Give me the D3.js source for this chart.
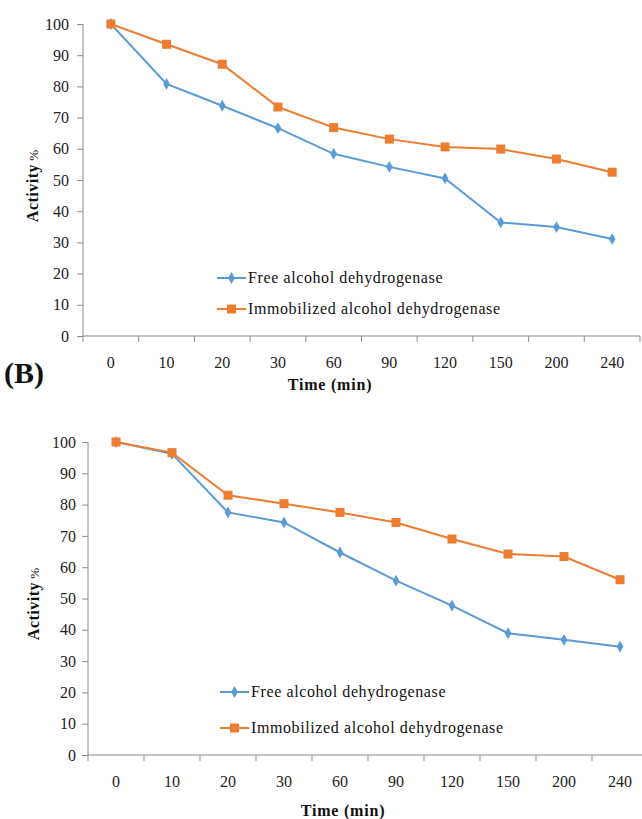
<!DOCTYPE html>
<html><head><meta charset="utf-8">
<script src="https://cdn.jsdelivr.net/npm/d3@7"></script>
<style>body{margin:0;background:#fff}svg{display:block}</style>
</head><body>
<svg id="c" width="642" height="819"></svg>
<script>
const categories = ["0","10","20","30","60","90","120","150","200","240"];
const yTicks = [0,10,20,30,40,50,60,70,80,90,100];
const seriesNames = ["Free alcohol dehydrogenase","Immobilized alcohol dehydrogenase"];
const freeA = [100,80.8,73.8,66.6,58.4,54.2,50.5,36.4,34.9,31.1];
const immobA = [100,93.5,87.1,73.4,66.8,63.1,60.6,59.9,56.7,52.5];
const freeB = [100,96.2,77.5,74.3,64.7,55.7,47.7,38.9,36.8,34.6];
const immobB = [100,96.6,83.0,80.3,77.5,74.3,69.0,64.2,63.4,56.0];
const colors = ["#5B9BD5","#ED7D31"];
const FONT = "'Liberation Serif', 'Times New Roman', serif";

const svg = d3.select("#c");

function drawChart(o){
  const g = svg.append("g");
  const x = d3.scaleBand().domain(categories).range([o.x0,o.x1]).padding(0);
  const y = d3.scaleLinear().domain([0,100]).range([o.y0,o.y1]);
  const axisCol = "#8c8c8c";
  const ya = g.append("g").attr("transform",`translate(${o.x0},0)`)
    .call(d3.axisLeft(y).tickValues(yTicks).tickSize(6).tickPadding(o.yPad).tickFormat(d3.format("d")));
  ya.select(".domain").attr("stroke",axisCol).attr("d",`M0,${o.y0}V${o.y1}`);
  ya.selectAll(".tick line").attr("stroke",axisCol);
  ya.selectAll("text").attr("font-size",16).attr("fill","#222");
  const xa = g.append("g").attr("transform",`translate(0,${o.y0})`)
    .call(d3.axisBottom(x).tickSize(0).tickPadding(o.labPad));
  xa.select(".domain").attr("stroke",axisCol).attr("d",`M${o.x0},0H${o.x1}`);
  xa.selectAll("text").attr("font-size",16).attr("fill","#222");
  const bounds = categories.map(c=>x(c)).concat([x(categories[categories.length-1])+x.bandwidth()]);
  g.selectAll("line.bt").data(bounds).join("line").attr("class","bt")
    .attr("x1",d=>d).attr("x2",d=>d).attr("y1",o.y0).attr("y2",o.y0+6).attr("stroke",axisCol);
  const line = d3.line().x((d,i)=>x(categories[i])+x.bandwidth()/2).y(d=>y(d));
  [o.free,o.immob].forEach((s,k)=>{
    g.append("path").datum(s).attr("d",line).attr("fill","none").attr("stroke",colors[k]).attr("stroke-width",2);
  });
  g.selectAll("path.dm").data(o.free).join("path").attr("class","dm")
    .attr("d",d3.symbol(d3.symbolDiamond,40)())
    .attr("transform",(d,i)=>`translate(${x(categories[i])+x.bandwidth()/2},${y(d)})`)
    .attr("fill",colors[0]);
  g.selectAll("rect.sq").data(o.immob).join("rect").attr("class","sq")
    .attr("x",(d,i)=>x(categories[i])+x.bandwidth()/2-4.5).attr("y",d=>y(d)-4.5)
    .attr("width",9).attr("height",9).attr("fill",colors[1]);
  seriesNames.forEach((n,k)=>{
    const ly = o.legY[k];
    g.append("line").attr("x1",o.legX).attr("x2",o.legX+29).attr("y1",ly).attr("y2",ly)
      .attr("stroke",colors[k]).attr("stroke-width",2);
    if(k===0){
      g.append("path").attr("d",d3.symbol(d3.symbolDiamond,40)()).attr("transform",`translate(${o.legX+14.5},${ly})`).attr("fill",colors[0]);
    } else {
      g.append("rect").attr("x",o.legX+10).attr("y",ly-4.5).attr("width",9).attr("height",9).attr("fill",colors[1]);
    }
    g.append("text").attr("x",o.legX+31).attr("y",ly+5).attr("font-size",16)
      .style("letter-spacing","0.6px").attr("fill","#111").text(n);
  });
  const yt = g.append("text").attr("transform",`translate(${o.ytX},${o.ytY}) rotate(-90)`)
    .attr("text-anchor","middle").attr("fill","#111");
  yt.append("tspan").attr("font-weight","bold").attr("font-size",16).style("letter-spacing","0.5px").text("Activity");
  yt.append("tspan").attr("font-size",13).text(" %");
  g.append("text").attr("x",o.xtX).attr("y",o.xtY).attr("text-anchor","middle")
    .attr("font-weight","bold").attr("font-size",16).style("letter-spacing","0.8px").attr("fill","#111").text("Time (min)");
}

drawChart({x0:83,x1:640,y0:336,y1:24,free:freeA,immob:immobA,labPad:21,yPad:8,
  legX:217,legY:[278,309],ytX:38,ytY:186,xtX:330,xtY:390});
drawChart({x0:88,x1:648,y0:755,y1:442,free:freeB,immob:immobB,labPad:21,yPad:6,
  legX:220,legY:[692,728],ytX:39,ytY:604,xtX:343,xtY:816});

svg.append("text").attr("x",4).attr("y",383).attr("font-weight","bold").attr("font-size",30).attr("fill","#111").text("(B)");

svg.selectAll("text").style("font-family",FONT).attr("font-family",null);
svg.selectAll("g").attr("font-family",null);
</script>
</body></html>
